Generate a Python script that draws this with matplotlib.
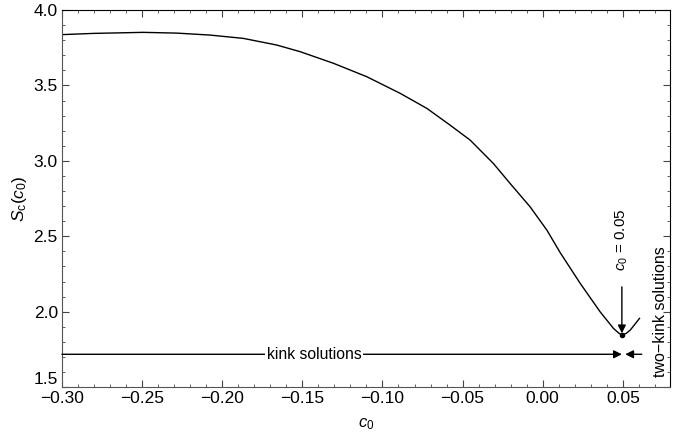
import matplotlib
matplotlib.use("Agg")
import matplotlib.pyplot as plt
from matplotlib.ticker import MultipleLocator

plt.rcParams['font.family'] = ['Liberation Sans', 'DejaVu Sans']
plt.rcParams['mathtext.fontset'] = 'custom'
plt.rcParams['mathtext.rm'] = 'Liberation Sans'
plt.rcParams['mathtext.it'] = 'Liberation Sans:italic'

# values
c0 = [-0.300, -0.2805, -0.2493, -0.2284, -0.2076, -0.1868, -0.166, -0.1514,
      -0.1306, -0.1098, -0.089, -0.0723, -0.0578, -0.0453, -0.0308, -0.0204,
      -0.0079, 0.0026, 0.0109, 0.0234, 0.0358, 0.0442, 0.0475, 0.0494,
      0.052, 0.0546, 0.057, 0.0604]
S_c = [3.837, 3.845, 3.852, 3.847, 3.834, 3.812, 3.768, 3.724,
       3.647, 3.558, 3.448, 3.348, 3.237, 3.138, 2.983, 2.851,
       2.696, 2.541, 2.392, 2.188, 2.000, 1.889, 1.858, 1.847,
       1.856, 1.878, 1.910, 1.956]

c_min = 0.0494
S_min = 1.847
kink_level = 1.718

fig = plt.figure(figsize=(6.81, 4.36), dpi=100)
ax = fig.add_axes([0.091, 0.112, 0.893, 0.865])

ax.plot(c0, S_c, color='black', lw=1.0)
ax.plot([c_min], [S_min], 'o', color='black', ms=3)

# arrow to the minimum
ax.annotate('', xy=(c_min, S_min + 0.01), xytext=(c_min, 2.165),
            arrowprops=dict(arrowstyle='-|>', color='black', lw=1,
                            mutation_scale=12, shrinkA=0, shrinkB=0))
ax.text(c_min, 2.48, r'$c_0$ = 0.05', rotation=90, ha='center', va='center',
        fontsize=11)

# kink solutions range
ax.annotate('', xy=(c_min, kink_level), xytext=(-0.30, kink_level),
            arrowprops=dict(arrowstyle='-|>', color='black', lw=1,
                            mutation_scale=12, shrinkA=0, shrinkB=0))
ax.text(-0.1427, kink_level, 'kink solutions', ha='center', va='center',
        fontsize=11.3, bbox=dict(facecolor='white', edgecolor='none', pad=1))

# two-kink solutions range
ax.annotate('', xy=(0.0515, kink_level), xytext=(0.0618, kink_level),
            arrowprops=dict(arrowstyle='-|>', color='black', lw=1,
                            mutation_scale=12, shrinkA=0, shrinkB=0))
ax.text(0.0738, 2.0, 'two\u2212kink solutions', rotation=90, ha='center',
        va='center', fontsize=11.5)

ax.set_xlim(-0.30, 0.0795)
ax.set_ylim(1.5, 4.0)
ax.xaxis.set_major_locator(MultipleLocator(0.05))
ax.xaxis.set_minor_locator(MultipleLocator(0.01))
ax.yaxis.set_major_locator(MultipleLocator(0.5))
ax.yaxis.set_minor_locator(MultipleLocator(0.1))
ax.xaxis.set_major_formatter(plt.FuncFormatter(
    lambda v, p: ('%.2f' % v).replace('-', '\u2212').replace('\u22120.00', '0.00')))
ax.yaxis.set_major_formatter(plt.FuncFormatter(lambda v, p: '%.1f' % v))
ax.tick_params(which='both', direction='in', top=True, right=True,
               labelsize=12.5, color='#444444', pad=3)
ax.tick_params(which='major', length=5, width=0.8)
ax.tick_params(which='minor', length=2.5, width=0.6)
for side in ['left', 'bottom']:
    ax.spines[side].set_color('#555555')

ax.set_xlabel(r'$c_0$', fontsize=12, labelpad=7)
ax.set_ylabel(r'$S_{\mathrm{c}}(c_0)$', fontsize=12.5, labelpad=3)

# lift the lowest y label off the x labels, as in the reference
fig.canvas.draw()
for tick in ax.yaxis.get_major_ticks():
    if tick.label1.get_text() == '1.5':
        tick.label1.set_va('bottom')

fig.savefig('out.png', dpi=100)
